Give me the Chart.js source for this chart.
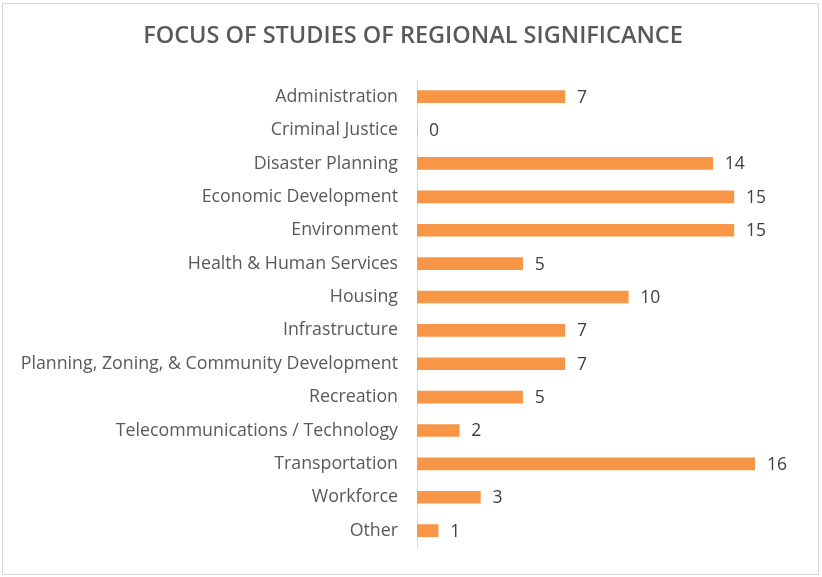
<!DOCTYPE html>
<html>
<head>
<meta charset="utf-8">
<script src="https://cdn.jsdelivr.net/npm/chart.js@4/dist/chart.umd.min.js"></script>
<style>
html,body{margin:0;padding:0;background:#fff;}
#wrap{width:822px;height:577px;position:relative;}
</style>
</head>
<body>
<div id="wrap"><canvas id="c" width="822" height="577"></canvas></div>
<script>
const chartTitle = "FOCUS OF STUDIES OF REGIONAL SIGNIFICANCE";
const categories = [
  "Administration",
  "Criminal Justice",
  "Disaster Planning",
  "Economic Development",
  "Environment",
  "Health & Human Services",
  "Housing",
  "Infrastructure",
  "Planning, Zoning, & Community Development",
  "Recreation",
  "Telecommunications / Technology",
  "Transportation",
  "Workforce",
  "Other"
];
const studyCounts = [7, 0, 14, 15, 15, 5, 10, 7, 7, 5, 2, 16, 3, 1];

const FONT = "'Open Sans', 'Noto Sans', sans-serif";

const frame = {
  id: 'frame',
  beforeDraw(chart) {
    const ctx = chart.ctx;
    ctx.save();
    ctx.fillStyle = '#fff';
    ctx.fillRect(0, 0, chart.width, chart.height);
    ctx.strokeStyle = '#d9d9d9';
    ctx.lineWidth = 1;
    ctx.strokeRect(2.5, 3.5, 816, 571);
    ctx.font = "600 23.5px " + FONT;
    ctx.fillStyle = '#595959';
    ctx.textAlign = 'center';
    ctx.textBaseline = 'middle';
    ctx.fillText(chartTitle, 413, 36);
    ctx.restore();
  }
};

const valueLabels = {
  id: 'valueLabels',
  afterDatasetsDraw(chart) {
    const ctx = chart.ctx;
    const meta = chart.getDatasetMeta(0);
    ctx.save();
    ctx.font = "17.5px " + FONT;
    ctx.fillStyle = '#404040';
    ctx.textAlign = 'left';
    ctx.textBaseline = 'middle';
    meta.data.forEach((bar, i) => {
      ctx.fillText(String(chart.data.datasets[0].data[i]), bar.x + 12, bar.y + 1);
    });
    ctx.restore();
  }
};

new Chart(document.getElementById('c'), {
  type: 'bar',
  data: {
    labels: categories,
    datasets: [{
      data: studyCounts,
      backgroundColor: '#F79646',
      borderWidth: 0,
      barThickness: 12
    }]
  },
  options: {
    indexAxis: 'y',
    responsive: false,
    animation: false,
    layout: { padding: { left: 0, right: 67, top: 80, bottom: 27 } },
    plugins: {
      legend: { display: false },
      tooltip: { enabled: false },
      title: { display: false }
    },
    scales: {
      x: { display: false, min: 0, max: 16 },
      y: {
        afterFit(scale) { scale.width = 417; },
        grid: { display: true, drawOnChartArea: false, drawTicks: false, color: 'rgba(0,0,0,0)' },
        border: { display: true, color: '#d9d9d9', width: 1 },
        ticks: { color: '#595959', padding: 19, font: { family: FONT, size: 17.8 } }
      }
    }
  },
  plugins: [frame, valueLabels]
});
</script>
</body>
</html>
